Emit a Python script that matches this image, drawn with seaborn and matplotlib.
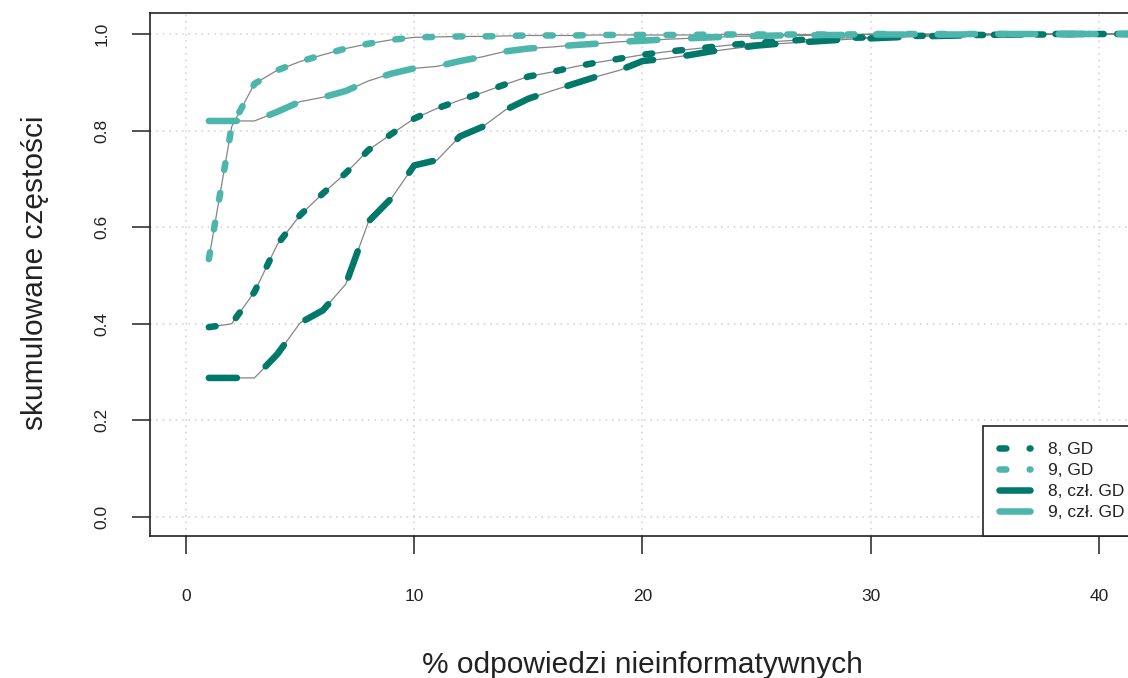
import matplotlib
matplotlib.use("Agg")
import matplotlib.pyplot as plt
from matplotlib.lines import Line2D
import pandas as pd
import seaborn as sns

# ---------------- data ----------------
x_vals = list(range(1, 43))

gd_8 = [0.393, 0.400, 0.466, 0.564, 0.625, 0.670, 0.712, 0.760, 0.793, 0.825,
        0.846, 0.863, 0.879, 0.896, 0.912, 0.921, 0.932, 0.941, 0.949, 0.957,
        0.963, 0.968, 0.973, 0.978, 0.982, 0.985, 0.988, 0.990, 0.992, 0.993,
        0.995, 0.996, 0.997, 0.998, 0.998, 0.999, 0.999, 0.999, 1.000, 1.000,
        1.000, 1.000]

gd_9 = [0.534, 0.808, 0.897, 0.925, 0.943, 0.957, 0.970, 0.980, 0.988, 0.993,
        0.994, 0.995, 0.995, 0.996, 0.997, 0.997, 0.997, 0.998, 0.998, 0.998,
        0.998, 0.998, 0.999, 0.999, 0.999, 0.999, 0.999, 0.999, 0.999, 1.000,
        1.000, 1.000, 1.000, 1.000, 1.000, 1.000, 1.000, 1.000, 1.000, 1.000,
        1.000, 1.000]

czl_8 = [0.288, 0.288, 0.288, 0.337, 0.402, 0.428, 0.482, 0.612, 0.660, 0.728,
         0.739, 0.788, 0.808, 0.843, 0.866, 0.882, 0.897, 0.912, 0.925, 0.944,
         0.949, 0.956, 0.964, 0.970, 0.976, 0.980, 0.983, 0.986, 0.989, 0.991,
         0.993, 0.995, 0.996, 0.997, 0.998, 0.999, 0.999, 1.000, 1.000, 1.000,
         1.000, 1.000]

czl_9 = [0.820, 0.820, 0.820, 0.839, 0.860, 0.869, 0.882, 0.903, 0.918, 0.929,
         0.933, 0.944, 0.953, 0.964, 0.970, 0.973, 0.977, 0.980, 0.984, 0.986,
         0.989, 0.991, 0.993, 0.995, 0.996, 0.997, 0.997, 0.998, 0.998, 0.999,
         0.999, 0.999, 0.999, 0.999, 1.000, 1.000, 1.000, 1.000, 1.000, 1.000,
         1.000, 1.000]

series_names = ["8, GD", "9, GD", "8, czł. GD", "9, czł. GD"]
x_ticks = [0, 10, 20, 30, 40]
y_ticks = [0.0, 0.2, 0.4, 0.6, 0.8, 1.0]
x_label = "% odpowiedzi nieinformatywnych"
y_label = "skumulowane częstości"

# ---------------- style ----------------
DARK = "#00796B"
LIGHT = "#4DB6AC"
GRAY = "#858585"
INK = "#222222"

palette = {"8, GD": DARK, "9, GD": LIGHT, "8, czł. GD": DARK, "9, czł. GD": LIGHT}
LW = 4.7  # points
dash_short = (1.05, 3.57)
dash_long = (4.3, 5.15)
dash_map = {"8, GD": dash_short, "9, GD": dash_short,
            "8, czł. GD": dash_long, "9, czł. GD": dash_long}

sns.set_style("white")
plt.rcParams["font.family"] = ["Liberation Sans", "DejaVu Sans"]

# long-form table
frames = []
for name, vals in zip(series_names, [gd_8, gd_9, czl_8, czl_9]):
    frames.append(pd.DataFrame({"x": x_vals, "y": vals, "series": name}))
df = pd.concat(frames, ignore_index=True)

W, H = 1128, 678
fig = plt.figure(figsize=(W / 100, H / 100), dpi=100)
ax = fig.add_axes([150 / W, 142 / H, 980 / W, 523 / H])

ax.set_xlim(-1.577, 41.36)
ax.set_ylim(-0.0393, 1.0435)

# grid
for xv in x_ticks:
    ax.axvline(xv, color="#d0d0d0", lw=1.1, ls=(0, (1, 3.2)), zorder=0)
for yv in y_ticks:
    ax.axhline(yv, color="#d0d0d0", lw=1.1, ls=(0, (1, 3.2)), zorder=0)

# thin gray connecting lines
sns.lineplot(data=df, x="x", y="y", units="series", estimator=None,
             color=GRAY, lw=0.9, ax=ax, legend=False, zorder=2)

# thick colored dashed lines
hue_order = ["8, czł. GD", "8, GD", "9, czł. GD", "9, GD"]
sns.lineplot(data=df, x="x", y="y", hue="series", style="series",
             hue_order=hue_order, style_order=hue_order,
             palette=palette, dashes=dash_map, lw=LW, ax=ax, legend=False,
             zorder=3, dash_capstyle="round", solid_capstyle="round")

# axes / ticks
for side in ["left", "bottom", "top", "right"]:
    ax.spines[side].set_color(INK)
    ax.spines[side].set_linewidth(1.2)
ax.spines["right"].set_visible(False)

ax.set_xticks(x_ticks)
ax.set_xticklabels([str(v) for v in x_ticks])
ax.set_yticks(y_ticks)
ax.set_yticklabels([f"{v:.1f}" for v in y_ticks], rotation=90, va="center")
ax.tick_params(axis="both", which="major", direction="out", length=13, width=1.1,
               color=INK, labelcolor=INK, labelsize=12.5,
               bottom=True, left=True, top=False, right=False)
ax.tick_params(axis="x", pad=25)
ax.tick_params(axis="y", pad=16)

ax.set_xlabel(x_label, fontsize=21.5, color=INK)
ax.set_ylabel(y_label, fontsize=21.5, color=INK)
ax.xaxis.set_label_coords(0.502, -0.247)
ax.xaxis.label.set_va("center")
ax.yaxis.set_label_coords(-0.117, 0.503)
ax.yaxis.label.set_va("center")

# legend
handles = [
    Line2D([], [], color=DARK, lw=LW, ls=(0, dash_short), dash_capstyle="round"),
    Line2D([], [], color=LIGHT, lw=LW, ls=(0, dash_short), dash_capstyle="round"),
    Line2D([], [], color=DARK, lw=LW, solid_capstyle="round"),
    Line2D([], [], color=LIGHT, lw=LW, solid_capstyle="round"),
]
leg = ax.legend(handles, series_names, loc="lower left",
                bbox_to_anchor=(0.850, 0.0), bbox_transform=ax.transAxes,
                borderaxespad=0, frameon=True, fancybox=False,
                edgecolor=INK, framealpha=1, fontsize=12.5,
                handlelength=1.78, handletextpad=1.05, borderpad=0.9,
                labelspacing=0.34)
leg.get_frame().set_linewidth(1.2)
for t in leg.get_texts():
    t.set_color(INK)

fig.savefig("out.png", dpi=100)
